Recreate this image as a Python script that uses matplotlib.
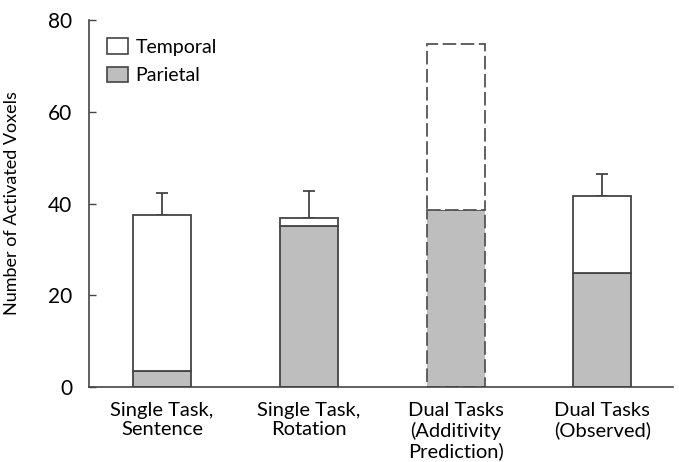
import matplotlib.pyplot as plt
import numpy as np

# Voxel counts per condition
conditions = ['Single Task,\nSentence', 'Single Task,\nRotation',
              'Dual Tasks\n(Additivity\nPrediction)', 'Dual Tasks\n(Observed)']
parietal = [3.5, 35.1, 38.5, 24.9]
total = [37.6, 36.9, 74.7, 41.7]
err_upper = [42.2, 42.7, None, 46.5]

temporal = [t - p for t, p in zip(total, parietal)]

plt.rcParams['font.family'] = ['Lato', 'DejaVu Sans']

fig = plt.figure(figsize=(6.79, 4.62), dpi=100)
ax = fig.add_axes([0.131, 0.1623, 0.86, 0.7944])

x = np.arange(len(conditions))
w = 0.395
gray = '#bebebe'
edge = '#444444'
dashed = (0, (7.5, 2.5))

for i in range(len(conditions)):
    ls = dashed if err_upper[i] is None else '-'
    ec = '#555555' if err_upper[i] is None else edge
    ax.bar(x[i], parietal[i], w, color=gray, edgecolor=ec, linewidth=1.3, linestyle=ls, zorder=2)
    ax.bar(x[i], temporal[i], w, bottom=parietal[i], color='white', edgecolor=ec,
           linewidth=1.3, linestyle=ls, zorder=2)
    if err_upper[i] is not None:
        ax.errorbar(x[i], total[i], yerr=[[0], [err_upper[i] - total[i]]], fmt='none',
                    ecolor=edge, elinewidth=1.3, capsize=4, capthick=1.3, zorder=1)

# legend boxes
h_temp = plt.Rectangle((0, 0), 1, 1, facecolor='white', edgecolor=edge, linewidth=1.2)
h_par = plt.Rectangle((0, 0), 1, 1, facecolor=gray, edgecolor=edge, linewidth=1.2)
ax.legend([h_temp, h_par], ['Temporal', 'Parietal'], loc='upper left', frameon=False,
          fontsize=14, handlelength=1.05, handleheight=0.85, handletextpad=0.4,
          labelspacing=0.55, bbox_to_anchor=(0.0, 1.0), borderaxespad=0.55)

ax.set_xlim(-0.497, 3.48)
ax.set_ylim(0, 80)
ax.set_yticks([0, 20, 40, 60, 80])
ax.set_xticks(x)
ax.set_xticklabels(conditions, fontsize=14.5, linespacing=1.15)
ax.tick_params(axis='x', length=0, pad=11)
ax.tick_params(axis='y', direction='in', length=5, width=1, labelsize=15, pad=12, color=edge)
ax.set_ylabel('Number of Activated Voxels', fontsize=13)
ax.yaxis.set_label_coords(-0.118, 0.5)

for s in ['top', 'right']:
    ax.spines[s].set_visible(False)
for s in ['left', 'bottom']:
    ax.spines[s].set_color(edge)
    ax.spines[s].set_linewidth(1.2)

plt.savefig('out.png', dpi=100)
